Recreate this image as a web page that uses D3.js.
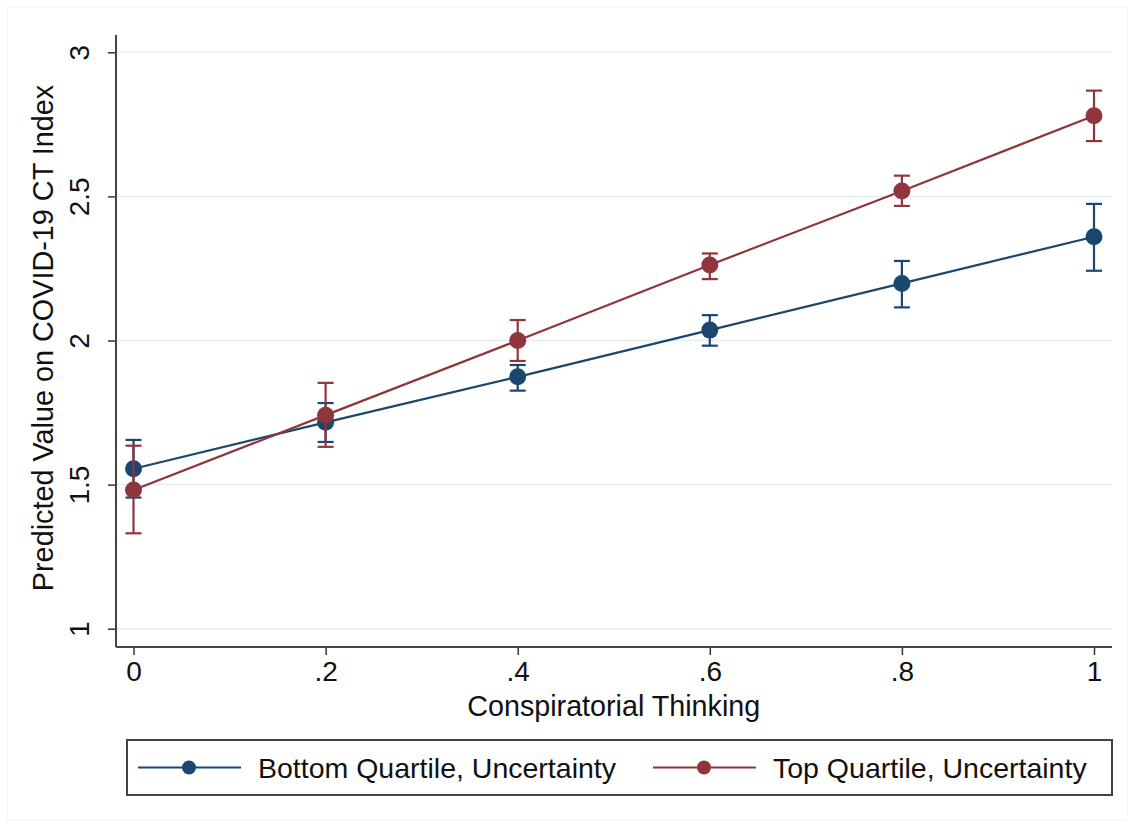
<!DOCTYPE html>
<html>
<head>
<meta charset="utf-8">
<script src="https://cdn.jsdelivr.net/npm/d3@7"></script>
<style>
  body { margin: 0; background: #fff; }
  svg { display: block; font-family: "Liberation Sans", Arial, Helvetica, sans-serif; }
</style>
</head>
<body>
<div id="chart"></div>
<script>
// values
var xValues = [0, 0.2, 0.4, 0.6, 0.8, 1];
var bottomMean = [1.555, 1.716, 1.874, 2.036, 2.198, 2.360];
var bottomLo   = [1.455, 1.648, 1.826, 1.982, 2.115, 2.242];
var bottomHi   = [1.655, 1.783, 1.915, 2.088, 2.276, 2.474];
var topMean = [1.481, 1.741, 2.000, 2.262, 2.519, 2.780];
var topLo   = [1.331, 1.631, 1.929, 2.213, 2.467, 2.692];
var topHi   = [1.635, 1.853, 2.071, 2.302, 2.572, 2.867];
var yTicks = [1, 1.5, 2, 2.5, 3];
var xTickLabels = ["0", ".2", ".4", ".6", ".8", "1"];
var seriesNames = ["Bottom Quartile, Uncertainty", "Top Quartile, Uncertainty"];
var seriesColors = ["#1a476f", "#90353b"];

var width = 1134, height = 827;

var svg = d3.select("#chart").append("svg")
  .attr("width", width)
  .attr("height", height);

// faint outer frame of the graph region
svg.append("rect")
  .attr("x", 7).attr("y", 7)
  .attr("width", width - 14).attr("height", height - 14)
  .attr("fill", "#fff")
  .attr("stroke", "#eef2f3");

var x = d3.scaleLinear().domain([0, 1]).range([133.5, 1094]);
var y = d3.scaleLinear().domain([1, 3]).range([628.7, 52.3]);

var plotLeft = 116, plotRight = 1112, plotTop = 35, plotBottom = 647;

// gridlines
svg.append("g").selectAll("line")
  .data(yTicks).enter().append("line")
    .attr("x1", plotLeft).attr("x2", plotRight)
    .attr("y1", function(d){ return y(d); })
    .attr("y2", function(d){ return y(d); })
    .attr("stroke", "#e4edef")
    .attr("stroke-width", 1.5);

// y axis
var yAxis = d3.axisLeft(y).tickValues(yTicks).tickSize(8).tickPadding(8)
  .tickFormat(function(d){ return d3.format("")(d); });
var yg = svg.append("g")
  .attr("transform", "translate(" + plotLeft + ",0)")
  .call(yAxis);
yg.select(".domain").remove();
yg.selectAll(".tick line").attr("stroke", "#333").attr("stroke-width", 1.5);
yg.selectAll(".tick text")
  .attr("font-size", 28)
  .attr("fill", "#111")
  .attr("text-anchor", "middle")
  .attr("dy", 0)
  .attr("x", 0)
  .attr("transform", "translate(-27,0) rotate(-90)");

svg.append("line")
  .attr("x1", plotLeft).attr("x2", plotLeft)
  .attr("y1", plotTop).attr("y2", plotBottom)
  .attr("stroke", "#444").attr("stroke-width", 2);

// x axis
var xAxis = d3.axisBottom(x).tickValues(xValues).tickSize(8).tickPadding(6)
  .tickFormat(function(d, i){ return xTickLabels[i]; });
var xg = svg.append("g")
  .attr("transform", "translate(0," + plotBottom + ")")
  .call(xAxis);
xg.select(".domain").remove();
xg.selectAll(".tick line").attr("stroke", "#333").attr("stroke-width", 1.5);
xg.selectAll(".tick text")
  .attr("font-size", 28)
  .attr("fill", "#111")
  .attr("dy", "0.71em");

svg.append("line")
  .attr("x1", plotLeft).attr("x2", plotRight)
  .attr("y1", plotBottom).attr("y2", plotBottom)
  .attr("stroke", "#444").attr("stroke-width", 2);

// axis titles
svg.append("text")
  .attr("x", (x(0) + x(1)) / 2)
  .attr("y", 716)
  .attr("text-anchor", "middle")
  .attr("font-size", 28.7)
  .attr("fill", "#111")
  .text("Conspiratorial Thinking");

svg.append("text")
  .attr("transform", "translate(53," + 338 + ") rotate(-90)")
  .attr("text-anchor", "middle")
  .attr("font-size", 28.8)
  .attr("fill", "#111")
  .text("Predicted Value on COVID-19 CT Index");

// series
var series = [
  { name: seriesNames[0], color: seriesColors[0], mean: bottomMean, lo: bottomLo, hi: bottomHi },
  { name: seriesNames[1], color: seriesColors[1], mean: topMean, lo: topLo, hi: topHi }
];

var line = d3.line()
  .x(function(d){ return x(d.x); })
  .y(function(d){ return y(d.m); });

series.forEach(function(s){
  var pts = xValues.map(function(v, i){
    return { x: v, m: s.mean[i], lo: s.lo[i], hi: s.hi[i] };
  });
  var g = svg.append("g");

  g.append("path")
    .datum(pts)
    .attr("d", line)
    .attr("fill", "none")
    .attr("stroke", s.color)
    .attr("stroke-width", 2.2);

  // error bars with caps
  var cap = 8;
  var bars = g.selectAll(".ci").data(pts).enter().append("g");
  bars.append("line")
    .attr("x1", function(d){ return x(d.x); })
    .attr("x2", function(d){ return x(d.x); })
    .attr("y1", function(d){ return y(d.lo); })
    .attr("y2", function(d){ return y(d.hi); })
    .attr("stroke", s.color).attr("stroke-width", 2.2);
  bars.append("line")
    .attr("x1", function(d){ return x(d.x) - cap; })
    .attr("x2", function(d){ return x(d.x) + cap; })
    .attr("y1", function(d){ return y(d.lo); })
    .attr("y2", function(d){ return y(d.lo); })
    .attr("stroke", s.color).attr("stroke-width", 2.2);
  bars.append("line")
    .attr("x1", function(d){ return x(d.x) - cap; })
    .attr("x2", function(d){ return x(d.x) + cap; })
    .attr("y1", function(d){ return y(d.hi); })
    .attr("y2", function(d){ return y(d.hi); })
    .attr("stroke", s.color).attr("stroke-width", 2.2);

  g.selectAll("circle").data(pts).enter().append("circle")
    .attr("cx", function(d){ return x(d.x); })
    .attr("cy", function(d){ return y(d.m); })
    .attr("r", 8.5)
    .attr("fill", s.color);
});

// legend
var legend = svg.append("g");
legend.append("rect")
  .attr("x", 127).attr("y", 740)
  .attr("width", 985).attr("height", 55)
  .attr("fill", "#fff")
  .attr("stroke", "#444")
  .attr("stroke-width", 2);

var legendX = [138, 653];
series.forEach(function(s, i){
  var lx = legendX[i], ly = 767.5;
  legend.append("line")
    .attr("x1", lx).attr("x2", lx + 103)
    .attr("y1", ly).attr("y2", ly)
    .attr("stroke", s.color).attr("stroke-width", 2.2);
  legend.append("circle")
    .attr("cx", lx + 51).attr("cy", ly).attr("r", 7)
    .attr("fill", s.color);
  legend.append("text")
    .attr("x", lx + 120).attr("y", ly)
    .attr("dy", "0.36em")
    .attr("font-size", 28.5)
    .attr("fill", "#111")
    .text(s.name);
});
</script>
</body>
</html>
